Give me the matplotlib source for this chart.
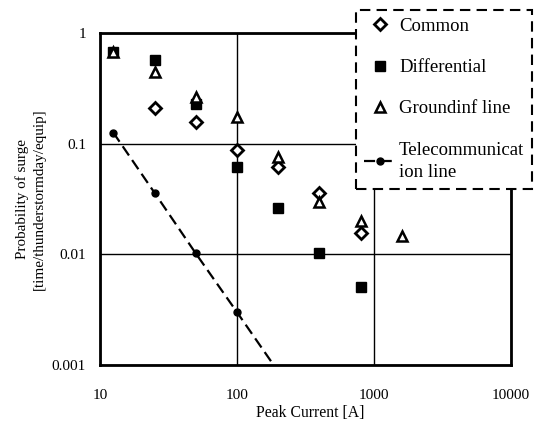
import matplotlib
matplotlib.use("Agg")
import matplotlib.pyplot as plt
from matplotlib.ticker import NullLocator

plt.rcParams['font.family'] = ['Liberation Serif', 'DejaVu Serif']

# peak current [A] and surge probability per series
common_x = [25, 50, 100, 200, 400, 800]
common_y = [0.21, 0.158, 0.087, 0.062, 0.036, 0.0155]

diff_x = [12.5, 25, 50, 100, 200, 400, 800]
diff_y = [0.68, 0.57, 0.23, 0.062, 0.026, 0.0102, 0.0051]

ground_x = [12.5, 25, 50, 100, 200, 400, 800, 1600]
ground_y = [0.67, 0.44, 0.265, 0.175, 0.076, 0.030, 0.020, 0.0145]

telecom_x = [12.5, 25, 50, 100, 185]
telecom_y = [0.126, 0.036, 0.0102, 0.003, 0.001]

x_ticks = [10, 100, 1000, 10000]
x_labels = ["10", "100", "1000", "10000"]
y_ticks = [0.001, 0.01, 0.1, 1]
y_labels = ["0.001", "0.01", "0.1", "1"]

fig = plt.figure(figsize=(5.37, 4.25), dpi=100)
ax = fig.add_axes([0.1862, 0.1412, 0.7654, 0.7812])
ax.set_xscale("log")
ax.set_yscale("log")
ax.set_xlim(10, 10000)
ax.set_ylim(0.001, 1)

ax.plot(common_x, common_y, linestyle="none", marker="D", markersize=6,
        markerfacecolor="white", markeredgecolor="black", markeredgewidth=2,
        label="Common", zorder=3)
ax.plot(diff_x, diff_y, linestyle="none", marker="s", markersize=6.5,
        color="black", label="Differential", zorder=3)
ax.plot(ground_x, ground_y, linestyle="none", marker="^", markersize=7,
        markerfacecolor="white", markeredgecolor="black", markeredgewidth=1.8,
        label="Groundinf line", zorder=3)
ax.plot(telecom_x, telecom_y, color="black", linestyle=(0, (5, 2.5)), lw=1.6,
        marker="o", markersize=5, markevery=[0, 1, 2, 3],
        label="Telecommunicat\nion line", zorder=3)

ax.set_xticks(x_ticks)
ax.set_xticklabels(x_labels)
ax.set_yticks(y_ticks)
ax.set_yticklabels(y_labels)
ax.xaxis.set_minor_locator(NullLocator())
ax.yaxis.set_minor_locator(NullLocator())
ax.tick_params(length=0, labelsize=11)
ax.tick_params(axis="x", pad=17)
ax.tick_params(axis="y", pad=10)
ax.grid(True, which="major", color="black", lw=1)
for s in ax.spines.values():
    s.set_linewidth(2)

fig.text(0.5773, 0.028, "Peak Current [A]", ha="center", va="center",
         fontsize=11.3)
fig.text(0.057, 0.532, "Probability of surge\n[time/thunderstormday/equip]",
         rotation=90, ha="center", va="center", fontsize=10.9,
         multialignment="center", linespacing=1.45)

leg = fig.legend(loc="upper right", bbox_to_anchor=(0.991, 0.977),
                 fontsize=13.5, frameon=True, fancybox=False,
                 labelspacing=1.29, handlelength=1.7, handletextpad=0.16,
                 borderpad=0.42, borderaxespad=0)
leg.get_texts()[3].set_linespacing(1.45)
frame = leg.get_frame()
frame.set_edgecolor("black")
frame.set_linewidth(1.5)
frame.set_linestyle((0, (5, 3)))
frame.set_facecolor("white")
frame.set_alpha(1)

fig.savefig("out.png", dpi=100)
